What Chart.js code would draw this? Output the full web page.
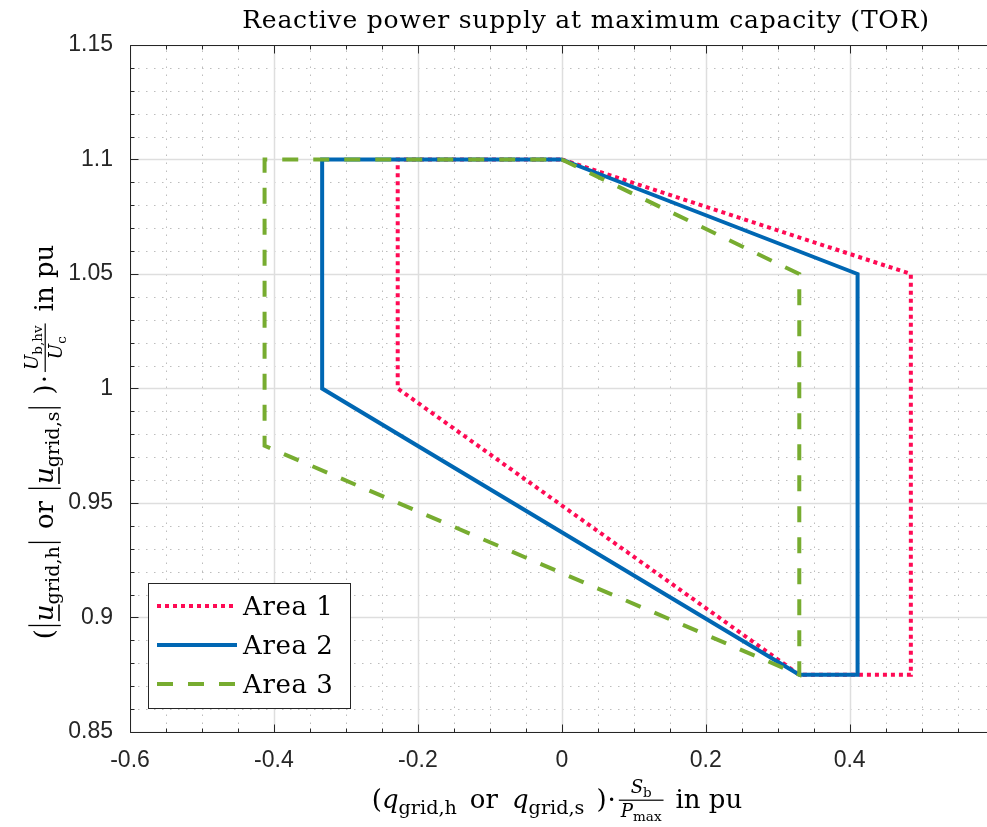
<!DOCTYPE html>
<html>
<head>
<meta charset="utf-8">
<script src="https://cdn.jsdelivr.net/npm/chart.js@4.4.1/dist/chart.umd.min.js"></script>
<style>
  html, body { margin: 0; padding: 0; background: #fff; overflow: hidden; }
  #wrap { width: 987px; height: 827px; overflow: hidden; }
</style>
</head>
<body>
<div id="wrap"><canvas id="chart" width="992" height="827"></canvas></div>
<script>
// operating areas: q in pu (x) against u in pu (y), each a closed outline
const area1Q = [0, 0.485, 0.485, 0.33, -0.228, -0.228, 0];
const area1U = [1.1, 1.05, 0.875, 0.875, 1.0, 1.1, 1.1];

const area2Q = [0, 0.411, 0.411, 0.33, -0.333, -0.333, 0];
const area2U = [1.1, 1.05, 0.875, 0.875, 1.0, 1.1, 1.1];

const area3Q = [0, 0.33, 0.33, -0.413, -0.413, 0];
const area3U = [1.1, 1.05, 0.875, 0.975, 1.1, 1.1];

const areaNames = ['Area 1', 'Area 2', 'Area 3'];

const xTicks = [-0.6, -0.4, -0.2, 0, 0.2, 0.4];
const yTicks = [0.85, 0.9, 0.95, 1, 1.05, 1.1, 1.15];

const SERIF = '"DejaVu Serif"';
const SANS = '"Liberation Sans", Arial, sans-serif';
const AXIS_COLOR = '#262626';

const toPoints = (qs, us) => qs.map((q, i) => ({ x: q, y: us[i] }));
const fmt = (v) => String(+v.toFixed(2));

// --- tiny math-ish text layout for the LaTeX labels ---
function fontFor(it, size) {
  return (it.f === 'it' ? 'italic ' : '') + size.toFixed(1) + 'px ' + SERIF;
}

function layout(ctx, items, size, draw, x = 0, y = 0) {
  let cx = x;
  for (const it of items) {
    if (it.gap) { cx += it.gap; continue; }
    if (it.frac) {
      const fs = size * 0.7;
      const wn = layout(ctx, it.frac[0], fs, false);
      const wd = layout(ctx, it.frac[1], fs, false);
      const w = Math.max(wn, wd) + 4;
      if (draw) {
        const axis = y - size * 0.3;
        ctx.fillRect(cx + 1, axis - 0.6, w, 1.2);
        layout(ctx, it.frac[0], fs, true, cx + 1 + (w - wn) / 2, axis - 7);
        layout(ctx, it.frac[1], fs, true, cx + 1 + (w - wd) / 2, axis + fs * 0.9);
      }
      cx += w + 3;
      continue;
    }
    if (it.bar) {
      if (draw) ctx.fillRect(cx + 3, y - size * 0.95, 1.3, size * 1.25);
      cx += 8;
      continue;
    }
    const fs = it.sub ? size * 0.74 : size;
    ctx.font = fontFor(it, fs);
    const w = ctx.measureText(it.s).width;
    if (draw) {
      const yy = it.sub ? y + size * 0.22 : y;
      ctx.fillText(it.s, cx, yy);
      if (it.under) ctx.fillRect(cx, yy + size * 0.2, w, 1.6);
    }
    cx += w;
  }
  return cx - x;
}

const xLabel = [
  { s: '(' }, { s: 'q', f: 'it' }, { s: 'grid,h', sub: true },
  { gap: 13 }, { s: 'or' }, { gap: 14 }, { s: 'q', f: 'it' }, { s: 'grid,s', sub: true },
  { gap: 12 }, { s: ')' }, { gap: 1 }, { s: '·' }, { gap: 2 },
  { frac: [[{ s: 'S', f: 'it' }, { s: 'b', sub: true }], [{ s: 'P', f: 'it' }, { s: 'max', sub: true }]] },
  { gap: 10 }, { s: 'in pu' }
];

const yLabel = [
  { s: '(' }, { bar: true }, { s: 'u', f: 'it', under: true }, { s: 'grid,h', sub: true }, { bar: true },
  { gap: 9 }, { s: 'or' }, { gap: 9 }, { bar: true }, { s: 'u', f: 'it', under: true }, { s: 'grid,s', sub: true }, { bar: true },
  { gap: 9 }, { s: ')' }, { gap: 1 }, { s: '·' }, { gap: 2 },
  { frac: [[{ s: 'U', f: 'it' }, { s: 'b,hv', sub: true }], [{ s: 'U', f: 'it' }, { s: 'c', sub: true }]] },
  { gap: 10 }, { s: 'in pu' }
];

const titleText = 'Reactive power supply at maximum capacity (TOR)';

// grid, box and inward ticks underneath the data
const gridPlugin = {
  id: 'matGrid',
  beforeDatasetsDraw(chart) {
    const { ctx, chartArea: a, scales: { x, y } } = chart;
    ctx.save();
    ctx.beginPath();
    ctx.rect(a.left, a.top, a.right - a.left, a.bottom - a.top);
    ctx.clip();

    // minor dotted grid
    ctx.strokeStyle = '#bdbdbd';
    ctx.lineWidth = 1;
    ctx.setLineDash([1.5, 6.5]);
    for (let k = -12; k <= 12; k++) {
      const v = k * 0.05;
      if (k % 4 === 0) continue;
      const px = Math.round(x.getPixelForValue(v)) + 0.5;
      ctx.beginPath(); ctx.moveTo(px, a.bottom); ctx.lineTo(px, a.top); ctx.stroke();
    }
    for (let k = 85; k <= 115; k++) {
      if (k % 5 === 0) continue;
      const py = Math.round(y.getPixelForValue(k / 100)) + 0.5;
      ctx.beginPath(); ctx.moveTo(a.left, py); ctx.lineTo(a.right, py); ctx.stroke();
    }

    // major grid
    ctx.setLineDash([]);
    ctx.strokeStyle = '#dedede';
    ctx.lineWidth = 1.5;
    xTicks.forEach(v => {
      const px = Math.round(x.getPixelForValue(v)) + 0.5;
      ctx.beginPath(); ctx.moveTo(px, a.bottom); ctx.lineTo(px, a.top); ctx.stroke();
    });
    yTicks.forEach(v => {
      const py = Math.round(y.getPixelForValue(v)) + 0.5;
      ctx.beginPath(); ctx.moveTo(a.left, py); ctx.lineTo(a.right, py); ctx.stroke();
    });
    ctx.restore();

    // axes box with inward ticks
    ctx.save();
    ctx.strokeStyle = AXIS_COLOR;
    ctx.lineWidth = 1;
    const L = Math.round(a.left) + 0.5, B = Math.round(a.bottom) + 0.5, T = Math.round(a.top) + 0.5;
    ctx.beginPath();
    ctx.moveTo(a.right, T); ctx.lineTo(L, T); ctx.lineTo(L, B); ctx.lineTo(a.right, B);
    ctx.stroke();
    ctx.beginPath();
    for (let k = -12; k <= 12; k++) {
      const v = k * 0.05;
      if (v > x.max) continue;
      const len = k % 4 === 0 ? 8 : 4;
      const px = Math.round(x.getPixelForValue(v)) + 0.5;
      ctx.moveTo(px, B); ctx.lineTo(px, B - len);
      ctx.moveTo(px, T); ctx.lineTo(px, T + len);
    }
    for (let k = 85; k <= 115; k++) {
      const len = k % 5 === 0 ? 8 : 4;
      const py = Math.round(y.getPixelForValue(k / 100)) + 0.5;
      ctx.moveTo(L, py); ctx.lineTo(L + len, py);
    }
    ctx.stroke();
    ctx.restore();
  },
  afterDraw(chart) {
    const { ctx } = chart;
    ctx.save();
    ctx.fillStyle = '#000';
    ctx.textBaseline = 'alphabetic';

    // title
    ctx.font = '25px ' + SERIF;
    ctx.letterSpacing = '0.8px';
    ctx.textAlign = 'center';
    ctx.fillText(titleText, 586, 28);
    ctx.letterSpacing = '0px';
    ctx.textAlign = 'left';

    // x axis label
    const wx = layout(ctx, xLabel, 26, false);
    layout(ctx, xLabel, 26, true, 557 - wx / 2, 808);

    // y axis label, rotated
    const wy = layout(ctx, yLabel, 26, false);
    ctx.translate(53, 442);
    ctx.rotate(-Math.PI / 2);
    layout(ctx, yLabel, 26, true, -wy / 2, 0);
    ctx.restore();

    // legend box
    const sets = chart.data.datasets;
    ctx.save();
    ctx.fillStyle = '#fff';
    ctx.fillRect(148.5, 583.5, 202, 125);
    ctx.strokeStyle = AXIS_COLOR;
    ctx.lineWidth = 1;
    ctx.strokeRect(148.5, 583.5, 202, 125);
    const rows = [606, 645, 684];
    sets.forEach((ds, i) => {
      const yy = rows[i];
      ctx.strokeStyle = ds.borderColor;
      ctx.lineWidth = ds.borderWidth;
      ctx.setLineDash(ds.borderDash || []);
      ctx.lineCap = 'butt';
      ctx.beginPath(); ctx.moveTo(157, yy); ctx.lineTo(237, yy); ctx.stroke();
      ctx.setLineDash([]);
      ctx.fillStyle = '#000';
      ctx.font = '26px ' + SERIF;
      ctx.letterSpacing = '0.6px';
      ctx.fillText(ds.label, 243, yy + 9);
    });
    ctx.restore();
  }
};

const lineStyle = {
  showLine: true,
  pointRadius: 0,
  pointHoverRadius: 0,
  fill: false,
  tension: 0,
  borderWidth: 4,
  borderCapStyle: 'butt',
  borderJoinStyle: 'miter',
};

new Chart(document.getElementById('chart'), {
  type: 'scatter',
  data: {
    datasets: [
      { ...lineStyle, label: areaNames[0], data: toPoints(area1Q, area1U), borderColor: '#ff0a54', borderDash: [4, 4], order: 3 },
      { ...lineStyle, label: areaNames[1], data: toPoints(area2Q, area2U), borderColor: '#0067b3', order: 2 },
      { ...lineStyle, label: areaNames[2], data: toPoints(area3Q, area3U), borderColor: '#77ac30', borderDash: [16, 15], order: 1 },
    ],
  },
  options: {
    responsive: false,
    animation: false,
    devicePixelRatio: 1,
    layout: { padding: { top: 45, right: 2, left: 0, bottom: 0 } },
    plugins: {
      legend: { display: false },
      title: { display: false },
      tooltip: { enabled: false },
    },
    scales: {
      x: {
        type: 'linear',
        min: -0.6,
        max: 0.595,
        grid: { display: false },
        border: { display: false },
        ticks: {
          autoSkip: false,
          maxRotation: 0,
          padding: 7,
          color: AXIS_COLOR,
          font: { family: SANS, size: 23 },
          callback: (v) => fmt(v),
        },
        afterBuildTicks: (scale) => { scale.ticks = xTicks.map(v => ({ value: v })); },
        afterFit: (scale) => { scale.height = 95; },
      },
      y: {
        type: 'linear',
        min: 0.85,
        max: 1.15,
        grid: { display: false },
        border: { display: false },
        ticks: {
          autoSkip: false,
          padding: 9,
          color: AXIS_COLOR,
          font: { family: SANS, size: 23 },
          callback: (v) => fmt(v),
        },
        afterBuildTicks: (scale) => { scale.ticks = yTicks.map(v => ({ value: v })); },
        afterFit: (scale) => { scale.width = 130; },
      },
    },
  },
  plugins: [gridPlugin],
});
</script>
</body>
</html>
